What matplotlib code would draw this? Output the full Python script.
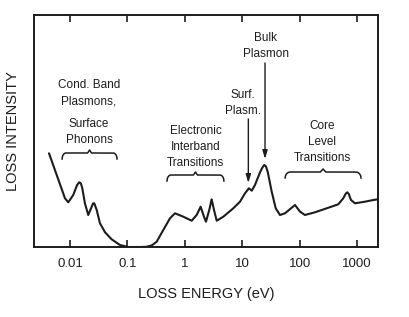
import matplotlib
matplotlib.use('Agg')
import matplotlib.pyplot as plt
import numpy as np

plt.rcParams['font.family'] = ['Liberation Sans Narrow', 'Liberation Sans', 'DejaVu Sans']

# loss energy (eV) and loss intensity (arb. units)
energy = [0.00431, 0.00818, 0.00934, 0.0114, 0.0133, 0.0145, 0.0155, 0.0164,
          0.0182, 0.0208, 0.0239, 0.0252, 0.0265, 0.0292, 0.0333, 0.0408,
          0.0532, 0.0743, 0.104, 0.166, 0.215, 0.27, 0.324, 0.422, 0.552,
          0.675, 0.942, 1.32, 1.61, 1.89, 2.16, 2.34, 2.67, 2.94, 3.23, 3.60,
          4.69, 7.00, 9.16, 11.2, 13.1, 14.7, 16.7, 20.4, 22.5, 24.3, 26.0,
          27.8, 32.7, 38.4, 45.6, 55.7, 83.2, 102, 124, 185, 297, 472, 577,
          640, 678, 720, 786, 923, 1377, 1923, 2320]
intensity = [93.7, 48.7, 44.7, 52, 62, 64.7, 63.5, 58.7, 43.7, 32, 40.3,
             43.5, 43.7, 37, 23.7, 14.7, 7.7, 2, 0, 0, 0.2, 1.8, 5.3, 17,
             28.7, 33.7, 30.3, 26.3, 32, 40.3, 30.3, 25.3, 37, 47.7, 37, 26.3,
             30.3, 38.7, 45.3, 53.7, 58.7, 56.3, 62, 74.5, 79.5, 82, 80.5,
             75.3, 55.3, 38.7, 32, 33.7, 42, 35.3, 32, 34.7, 38.7, 42.7, 48.7,
             53.5, 54.7, 53, 47, 43.7, 45.3, 47, 47.7]

tick_pos = [0.01, 0.1, 1, 10, 100, 1000]
tick_labels = ['0.01', '0.1', '1', '10', '100', '1000']

ink = '#1c1c1c'

fig = plt.figure(figsize=(4.09, 3.17), dpi=100)
ax = fig.add_axes([0.0831, 0.2208, 0.841, 0.732])

ax.plot(energy, intensity, color=ink, lw=1.5, solid_joinstyle='round',
        solid_capstyle='round')

ax.set_xscale('log')
ax.set_xlim(0.00236, 2320)
ax.set_ylim(0, 232)
ax.set_xticks(tick_pos)
ax.set_xticklabels(tick_labels)
ax.minorticks_off()
ax.set_yticks([])
ax.tick_params(axis='x', which='major', direction='in', top=True, length=5,
               width=1.2, color=ink, labelsize=9.5, pad=8, labelcolor=ink)
for sp in ax.spines.values():
    sp.set_linewidth(1.4)
    sp.set_color(ink)

ax.set_xlabel('LOSS ENERGY (eV)', fontsize=10.5, color=ink, labelpad=12)
ax.set_ylabel('LOSS INTENSITY', fontsize=10.5, color=ink, labelpad=10)


def brace(x0, x1, y, h=6, tip=3):
    # curly brace drawn in log-x / intensity space
    l0, l1 = np.log10(x0), np.log10(x1)
    s = np.linspace(-1, 1, 401)
    u = np.abs(s)
    yy = np.full_like(s, y)
    end = u > 0.86
    yy[end] -= h * (1 - np.sqrt(np.clip(1 - ((u[end] - 0.86) / 0.14) ** 2, 0, 1)))
    yy += tip * np.clip(1 - u / 0.07, 0, 1)
    xx = 10 ** (l0 + (s + 1) / 2 * (l1 - l0))
    ax.plot(xx, yy, color=ink, lw=1.1)


fs = 8.5
ax.text(0.0214, 154, 'Cond. Band\nPlasmons,', ha='center', va='center',
        fontsize=fs, color=ink, linespacing=1.5)
ax.text(0.0214, 115, 'Surface\nPhonons', ha='center', va='center',
        fontsize=fs, color=ink, linespacing=1.5)
brace(0.0073, 0.066, 94)

ax.text(1.55, 100, 'Electronic\nInterband\nTransitions', ha='center',
        va='center', fontsize=fs, color=ink, linespacing=1.45)
brace(0.49, 4.8, 72)

ax.text(245, 105, 'Core\nLevel\nTransitions', ha='center', va='center',
        fontsize=fs, color=ink, linespacing=1.45)
brace(56, 1175, 75)

ax.text(10.2, 144, 'Surf.\nPlasm.', ha='center', va='center',
        fontsize=fs, color=ink, linespacing=1.35)
ax.annotate('', xy=(12.8, 64), xytext=(12.8, 128),
            arrowprops=dict(arrowstyle='-|>,head_length=0.5,head_width=0.15',
                            color=ink, lw=1.0, shrinkA=0, shrinkB=0))

ax.text(26, 201, 'Bulk\nPlasmon', ha='center', va='center',
        fontsize=fs, color=ink, linespacing=1.35)
ax.annotate('', xy=(25, 88), xytext=(25, 184),
            arrowprops=dict(arrowstyle='-|>,head_length=0.5,head_width=0.15',
                            color=ink, lw=1.0, shrinkA=0, shrinkB=0))

fig.savefig('out.png', dpi=100, facecolor='white')
